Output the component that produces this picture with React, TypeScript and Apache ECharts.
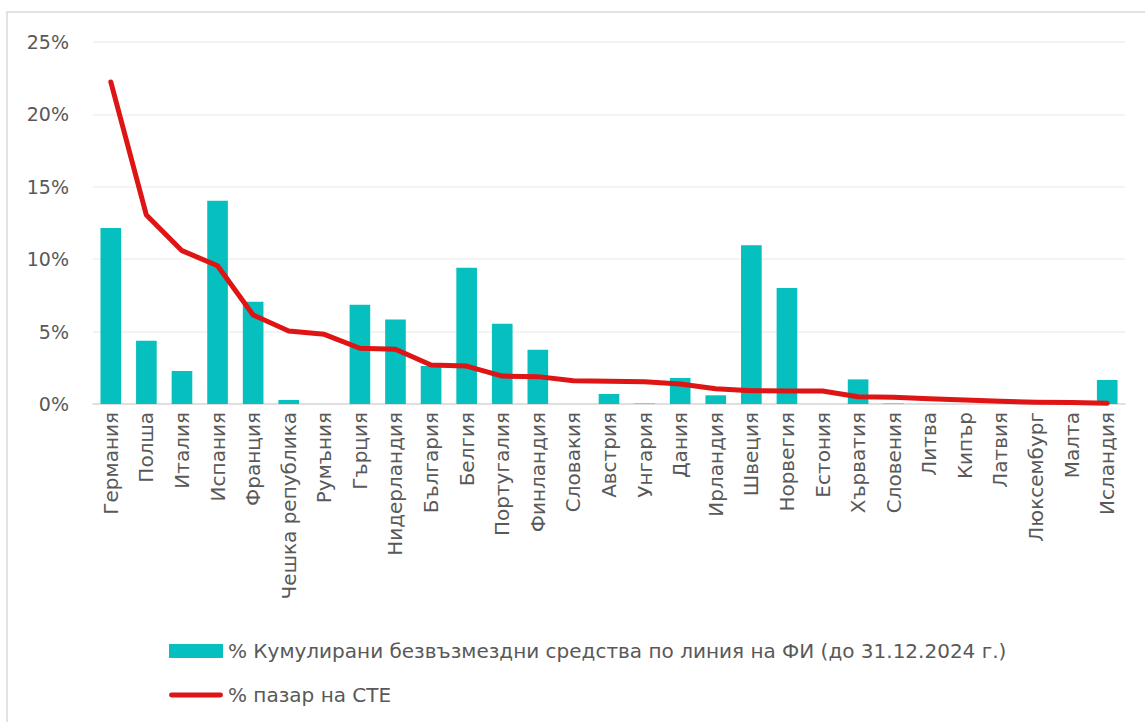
import React, { useEffect, useRef } from "react";
import * as echarts from "echarts";

const countries = [
  "Германия", "Полша", "Италия", "Испания", "Франция", "Чешка република", "Румъния",
  "Гърция", "Нидерландия", "България", "Белгия", "Португалия", "Финландия", "Словакия",
  "Австрия", "Унгария", "Дания", "Ирландия", "Швеция", "Норвегия", "Естония", "Хърватия",
  "Словения", "Литва", "Кипър", "Латвия", "Люксембург", "Малта", "Исландия",
];

const grantShare = [
  12.15, 4.37, 2.28, 14.04, 7.07, 0.28, 0, 6.86, 5.84, 2.62, 9.41, 5.55, 3.75, 0,
  0.69, 0.03, 1.8, 0.6, 10.96, 8.01, 0, 1.7, 0.03, 0, 0, 0, 0, 0, 1.66,
];

const marketShare = [
  22.24, 13.05, 10.59, 9.55, 6.15, 5.04, 4.81, 3.85, 3.78, 2.69, 2.62, 1.93, 1.89,
  1.61, 1.57, 1.54, 1.38, 1.06, 0.92, 0.9, 0.9, 0.5, 0.46, 0.37, 0.28, 0.19, 0.12,
  0.1, 0.05,
];

const yTicks = [0, 5, 10, 15, 20, 25];

const barName = "% Кумулирани безвъзмездни средства по линия на ФИ (до 31.12.2024 г.)";
const lineName = "% пазар на СТЕ";

const FONT = "'DejaVu Sans', 'Open Sans', sans-serif";
const TEXT = "#595959";

export default function App() {
  const ref = useRef<HTMLDivElement>(null);
  useEffect(() => {
    if (!ref.current) return;
    const chart = echarts.init(ref.current, undefined, { renderer: "svg" });
    chart.setOption({
      animation: false,
      textStyle: { fontFamily: FONT },
      graphic: [
        {
          type: "rect",
          shape: { x: 7, y: 12, width: 1160, height: 730 },
          style: { fill: "none", stroke: "#d9d9d9", lineWidth: 1.5 },
          silent: true,
        },
      ],
      grid: { left: 93, right: 20, top: 42, bottom: 318, containLabel: false },
      legend: {
        orient: "vertical",
        left: 164,
        top: 636,
        itemGap: 24,
        itemWidth: 54,
        itemHeight: 14,
        textStyle: { color: TEXT, fontSize: 20, fontFamily: FONT },
        data: [
          { name: barName, icon: "rect" },
          { name: lineName, icon: "path://M2,0 L52,0 A2.5,2.5 0 0 1 52,5 L2,5 A2.5,2.5 0 0 1 2,0 Z" },
        ],
      },
      xAxis: {
        type: "category",
        data: countries,
        axisTick: { show: false },
        axisLine: { lineStyle: { color: "#d9d9d9", width: 1.5 } },
        axisLabel: {
          rotate: 90,
          interval: 0,
          color: TEXT,
          fontSize: 20,
          fontFamily: FONT,
          margin: 8,
        },
      },
      yAxis: {
        type: "value",
        min: yTicks[0],
        max: yTicks[yTicks.length - 1],
        interval: yTicks[1] - yTicks[0],
        axisLine: { show: false },
        axisTick: { show: false },
        splitLine: { lineStyle: { color: "#efefef", width: 1.5 } },
        axisLabel: {
          color: TEXT,
          fontSize: 19,
          fontFamily: FONT,
          margin: 24,
          formatter: (v: number) => `${v}%`,
        },
      },
      series: [
        {
          name: barName,
          type: "bar",
          data: grantShare,
          barWidth: "58%",
          itemStyle: { color: "#06BFBF" },
        },
        {
          name: lineName,
          type: "line",
          data: marketShare,
          symbol: "none",
          lineStyle: { color: "#DF1414", width: 5, cap: "round", join: "round" },
          itemStyle: { color: "#DF1414" },
        },
      ],
    });
    return () => chart.dispose();
  }, []);
  return (
    <div
      ref={ref}
      style={{ position: "fixed", left: 0, top: 0, width: 1145, height: 722, background: "#fff" }}
    />
  );
}
